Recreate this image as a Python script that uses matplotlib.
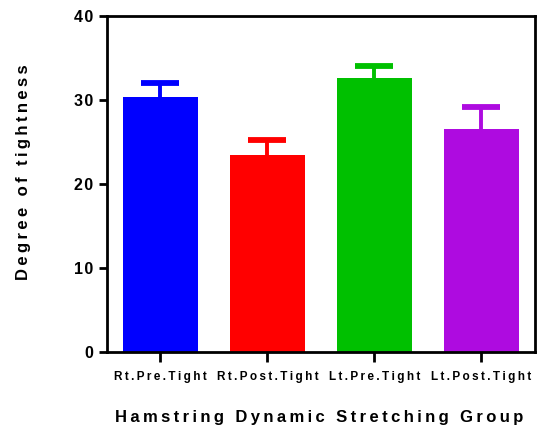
import matplotlib
matplotlib.use("Agg")
import matplotlib.pyplot as plt

categories = ["Rt.Pre.Tight", "Rt.Post.Tight", "Lt.Pre.Tight", "Lt.Post.Tight"]
means = [30.3, 23.5, 32.6, 26.5]
sems = [1.7, 1.7, 1.4, 2.7]
colors = ["#0000FF", "#FF0000", "#00C000", "#AE0BE0"]
yticks = [0, 10, 20, 30, 40]
xlabel = "Hamstring Dynamic Stretching Group"
ylabel = "Degree of tightness"

plt.rcParams['font.family'] = ['Liberation Sans', 'DejaVu Sans']
plt.rcParams['font.weight'] = 'bold'

def spaced(s, sp="\u200a"):
    return sp.join(list(s))

fig = plt.figure(figsize=(5.37, 4.34), dpi=100)
ax = fig.add_axes([106.7/537, 1-352/434, 428.3/537, 336/434])

x = list(range(len(categories)))
ax.bar(x, means, width=0.70, color=colors, zorder=2)
for xi, m, e, c in zip(x, means, sems, colors):
    _, caps, _ = ax.errorbar([xi], [m], yerr=[[0], [e]], fmt='none', ecolor=c,
                             elinewidth=2.8, capsize=13.5, capthick=4.2, zorder=1)
    caps[0].set_visible(False)

ax.set_xlim(-0.5, 3.5)
ax.set_ylim(0, 40)
ax.set_yticks(yticks)
ax.set_yticklabels([spaced(str(t)) for t in yticks])
ax.set_xticks(x)
ax.set_xticklabels([spaced(c, "\u2009") for c in categories])

for s in ax.spines.values():
    s.set_linewidth(2.0)
    s.set_color('black')

ax.tick_params(axis='y', direction='out', length=6, width=2.0, pad=3.5,
               labelsize=11.5)
ax.tick_params(axis='x', direction='out', length=7, width=2.0, pad=7,
               labelsize=8.5)
for lab in ax.get_xticklabels() + ax.get_yticklabels():
    lab.set_fontweight('bold')

ax.set_xlabel(spaced(xlabel, "\u2009"), fontsize=12, fontweight='bold', va='center')
ax.xaxis.set_label_coords(0.496, -0.196)
ax.set_ylabel(spaced(ylabel, "\u2009"), fontsize=12, fontweight='bold', va='center')
ax.yaxis.set_label_coords(-0.194, 0.534)

fig.savefig("out.png", dpi=100)
